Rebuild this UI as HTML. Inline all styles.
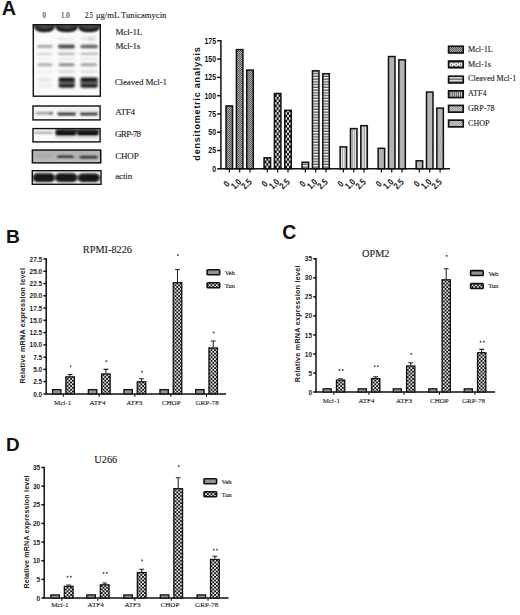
<!DOCTYPE html><html><head><meta charset="utf-8"><style>html,body{margin:0;padding:0;background:#fff;}svg{display:block;}</style></head><body>
<svg width="520" height="615" viewBox="0 0 520 615">
<defs>
<filter id="b1" x="-20%" y="-100%" width="140%" height="300%"><feGaussianBlur stdDeviation="0.9"/></filter>
<filter id="b2" x="-20%" y="-100%" width="140%" height="300%"><feGaussianBlur stdDeviation="1.3"/></filter>
<pattern id="pL" width="2" height="2" patternUnits="userSpaceOnUse"><rect width="2" height="2" fill="#acacac"/><rect width="1" height="1" fill="#5a5a5a"/><rect x="1" y="1" width="1" height="1" fill="#5a5a5a"/></pattern>
<pattern id="pS" width="3" height="3" patternUnits="userSpaceOnUse"><rect width="3" height="3" fill="#111"/><circle cx="1.5" cy="1.5" r="1" fill="#fff"/></pattern>
<pattern id="pC" width="2.75" height="2.75" patternUnits="userSpaceOnUse"><rect width="2.75" height="2.75" fill="#f6f6f6"/><rect y="1.4" width="2.75" height="1.35" fill="#5a5a5a"/></pattern>
<pattern id="pA" width="2.4" height="2.4" patternUnits="userSpaceOnUse"><rect width="2.4" height="2.4" fill="#f2f2f2"/><rect x="1.2" width="1.2" height="2.4" fill="#9a9a9a"/></pattern><pattern id="pA2" width="1.95" height="2" patternUnits="userSpaceOnUse" x="449.5"><rect width="1.95" height="2" fill="#fff"/><rect x="1" width="0.95" height="2" fill="#222"/></pattern>
<pattern id="pG" width="1.8" height="1.8" patternUnits="userSpaceOnUse"><rect width="1.8" height="1.8" fill="#d8d8d8"/><rect width="0.9" height="0.9" fill="#8e8e8e"/><rect x="0.9" y="0.9" width="0.9" height="0.9" fill="#8e8e8e"/></pattern>
<pattern id="pH" width="1.8" height="1.8" patternUnits="userSpaceOnUse"><rect width="1.8" height="1.8" fill="#dadada"/><rect width="0.9" height="0.9" fill="#909090"/><rect x="0.9" y="0.9" width="0.9" height="0.9" fill="#909090"/></pattern>
<pattern id="pV" width="1.8" height="1.8" patternUnits="userSpaceOnUse"><rect width="1.8" height="1.8" fill="#b4b4b4"/><rect width="0.9" height="0.9" fill="#707070"/><rect x="0.9" y="0.9" width="0.9" height="0.9" fill="#707070"/></pattern>
<pattern id="pT" width="3.6" height="3.6" patternUnits="userSpaceOnUse"><rect width="3.6" height="3.6" fill="#111"/><rect x="0.05" y="0.05" width="1.7" height="1.7" fill="#fff"/><rect x="1.85" y="1.85" width="1.7" height="1.7" fill="#fff"/></pattern>
</defs>
<text x="1.8" y="14.8" font-family='"Liberation Sans", sans-serif' font-weight="bold" font-size="19.8" fill="#111">A</text>
<g font-family='"Liberation Serif", serif' font-size="7.6" fill="#222" stroke="#222" stroke-width="0.15" lengthAdjust="spacingAndGlyphs"><text x="42.6" y="18.0" textLength="3.3" lengthAdjust="spacingAndGlyphs">0</text><text x="61.1" y="18.0" textLength="8.4" lengthAdjust="spacingAndGlyphs">1.0</text><text x="85.0" y="18.0" textLength="8.1" lengthAdjust="spacingAndGlyphs">2.5</text></g>
<text x="95.9" y="17.6" font-family='"Liberation Serif", serif' font-size="8.6" fill="#222" stroke="#222" stroke-width="0.12" textLength="70.5">μg/mL Tunicamycin</text>
<g><rect x="32.6" y="24.0" width="68.4" height="72.9" fill="#fafafa"/><clipPath id="c24"><rect x="32.6" y="24.0" width="68.4" height="72.9"/></clipPath><g clip-path="url(#c24)"><rect x="32" y="23" width="70" height="4.5" fill="#6a6a6a" filter="url(#b1)"/><path d="M34.8,24 H54.2 C54.2,30.6 50.32,31.6 44.5,31.6 C38.68,31.6 34.8,30.6 34.8,24 Z" fill="#4a4a4a" filter="url(#b1)"/><path d="M35.599999999999994,26.6 C36.3,30.2 39.65,30.4 44.5,30.4 C49.35,30.4 52.7,30.2 53.400000000000006,26.6" fill="none" stroke="#151515" stroke-width="2.6" filter="url(#b1)"/><path d="M56.2,24 H77.2 C77.2,30.6 73.0,31.6 66.7,31.6 C60.400000000000006,31.6 56.2,30.6 56.2,24 Z" fill="#4a4a4a" filter="url(#b1)"/><path d="M57.0,26.6 C57.7,30.2 61.45,30.4 66.7,30.4 C71.95,30.4 75.7,30.2 76.4,26.6" fill="none" stroke="#151515" stroke-width="2.6" filter="url(#b1)"/><path d="M78.8,24 H99.4 C99.4,30.6 95.28,31.6 89.1,31.6 C82.92,31.6 78.8,30.6 78.8,24 Z" fill="#4a4a4a" filter="url(#b1)"/><path d="M79.6,26.6 C80.3,30.2 83.95,30.4 89.1,30.4 C94.25,30.4 97.9,30.2 98.60000000000001,26.6" fill="none" stroke="#151515" stroke-width="2.6" filter="url(#b1)"/><rect x="58" y="36.8" width="17" height="4" rx="2.0" fill="#ededed" filter="url(#b2)"/><rect x="81" y="36.5" width="16" height="4" rx="2.0" fill="#e8e8e8" filter="url(#b2)"/><rect x="88" y="36.75" width="6" height="3.5" rx="1.75" fill="#d4d4d4" filter="url(#b2)"/><rect x="37" y="45.0" width="15.600000000000001" height="3.0" rx="1.5" fill="#a8a8a8" filter="url(#b1)"/><rect x="58" y="44.6" width="17" height="3.8" rx="1.9" fill="#4e4e4e" filter="url(#b1)"/><rect x="80.3" y="44.7" width="17.700000000000003" height="3.6" rx="1.8" fill="#626262" filter="url(#b1)"/><rect x="37" y="52.8" width="15.600000000000001" height="2.2" rx="1.1" fill="#d2d2d2" filter="url(#b1)"/><rect x="58" y="52.8" width="17" height="2.2" rx="1.1" fill="#b0b0b0" filter="url(#b1)"/><rect x="80.3" y="52.8" width="17.700000000000003" height="2.2" rx="1.1" fill="#b4b4b4" filter="url(#b1)"/><rect x="37" y="58.0" width="15.600000000000001" height="2" rx="1.0" fill="#f2f2f2" filter="url(#b1)"/><rect x="58" y="58.0" width="17" height="2" rx="1.0" fill="#e4e4e4" filter="url(#b1)"/><rect x="80.3" y="58.0" width="17.700000000000003" height="2" rx="1.0" fill="#e8e8e8" filter="url(#b1)"/><rect x="37.5" y="63.3" width="15.0" height="3" rx="1.5" fill="#aeaeae" filter="url(#b1)"/><rect x="58.5" y="63.3" width="16.0" height="3" rx="1.5" fill="#888888" filter="url(#b1)"/><rect x="80.5" y="63.3" width="16.5" height="3" rx="1.5" fill="#a2a2a2" filter="url(#b1)"/><rect x="37" y="70.5" width="15.600000000000001" height="2.2" rx="1.1" fill="#eeeeee" filter="url(#b1)"/><rect x="58" y="70.5" width="17" height="2.2" rx="1.1" fill="#d2d2d2" filter="url(#b1)"/><rect x="80.3" y="70.5" width="17.700000000000003" height="2.2" rx="1.1" fill="#d6d6d6" filter="url(#b1)"/><rect x="58.5" y="81.4" width="16.5" height="2.6" rx="1.3" fill="#555" filter="url(#b1)"/><rect x="80.3" y="81.4" width="17.700000000000003" height="2.6" rx="1.3" fill="#555" filter="url(#b1)"/><rect x="38" y="77.6" width="14" height="4.4" rx="2.2" fill="#e8e8e8" filter="url(#b1)"/><rect x="58.5" y="77.6" width="16.5" height="4.4" rx="2.2" fill="#141414" filter="url(#b1)"/><rect x="80.3" y="77.6" width="17.700000000000003" height="4.4" rx="2.2" fill="#141414" filter="url(#b1)"/><rect x="38" y="83.5" width="14" height="4.2" rx="2.1" fill="#eeeeee" filter="url(#b1)"/><rect x="58.5" y="83.5" width="16.5" height="4.2" rx="2.1" fill="#202020" filter="url(#b1)"/><rect x="80.3" y="83.5" width="17.700000000000003" height="4.2" rx="2.1" fill="#202020" filter="url(#b1)"/></g><rect x="33.300000000000004" y="24.7" width="67.0" height="71.5" fill="none" stroke="#111" stroke-width="1.4"/></g>
<g><rect x="32.3" y="105.3" width="68.5" height="15.299999999999997" fill="#f6f6f6"/><clipPath id="c105"><rect x="32.3" y="105.3" width="68.5" height="15.299999999999997"/></clipPath><g clip-path="url(#c105)"><rect x="35.5" y="112.0" width="17.0" height="2.4" rx="1.2" fill="#999" filter="url(#b1)"/><rect x="49.5" y="112.30000000000001" width="3.5" height="2.2" rx="1.1" fill="#707070" filter="url(#b1)"/><rect x="57.5" y="111.7" width="18.5" height="3.2" rx="1.6" fill="#5a5a5a" filter="url(#b1)"/><rect x="80" y="111.7" width="18" height="3.2" rx="1.6" fill="#5e5e5e" filter="url(#b1)"/><rect x="58" y="113.60000000000001" width="17.5" height="1.6" rx="0.8" fill="#3c3c3c" filter="url(#b1)"/><rect x="80.5" y="113.60000000000001" width="17.0" height="1.6" rx="0.8" fill="#404040" filter="url(#b1)"/><rect x="57.5" y="109.25" width="40.5" height="2.5" rx="1.25" fill="#e6e6e6" filter="url(#b2)"/></g><rect x="33.0" y="106.0" width="67.1" height="13.899999999999997" fill="none" stroke="#111" stroke-width="1.4"/></g>
<g><rect x="32.3" y="127.9" width="68.5" height="14.699999999999989" fill="#fbfbfb"/><clipPath id="c127"><rect x="32.3" y="127.9" width="68.5" height="14.699999999999989"/></clipPath><g clip-path="url(#c127)"><rect x="34" y="131.75" width="19" height="1.9" rx="0.95" fill="#9c9c9c" filter="url(#b1)"/><rect x="55.5" y="129.9" width="21.0" height="6.2" rx="2.5" fill="#0e0e0e" filter="url(#b1)"/><rect x="77" y="129.9" width="21.799999999999997" height="6.2" rx="2.5" fill="#0e0e0e" filter="url(#b1)"/><rect x="56" y="129.5" width="42.8" height="3" rx="1" fill="#222" filter="url(#b1)"/><rect x="56" y="136.25" width="42.5" height="2.5" rx="1" fill="#d8d8d8" filter="url(#b2)"/></g><rect x="33.0" y="128.6" width="67.1" height="13.299999999999988" fill="none" stroke="#111" stroke-width="1.4"/></g>
<g><rect x="31.7" y="149.4" width="69.7" height="14.099999999999994" fill="#b3b3b3"/><clipPath id="c149"><rect x="31.7" y="149.4" width="69.7" height="14.099999999999994"/></clipPath><g clip-path="url(#c149)"><rect x="36" y="154.25" width="16" height="2.5" rx="1.25" fill="#a4a4a4" filter="url(#b2)"/><rect x="57.4" y="155.7" width="16.199999999999996" height="2.6" rx="1.3" fill="#1e1e1e" filter="url(#b1)"/><rect x="79.6" y="155.89999999999998" width="17.80000000000001" height="2.6" rx="1.3" fill="#222" filter="url(#b1)"/><rect x="33" y="160.25" width="67" height="2.5" rx="0" fill="#c2c2c2" filter="url(#b2)"/><rect x="58" y="158.75" width="15" height="1.5" rx="0.75" fill="#c8c8c8" filter="url(#b2)"/></g><rect x="32.4" y="150.1" width="68.3" height="12.699999999999994" fill="none" stroke="#111" stroke-width="1.4"/></g>
<g><rect x="31.6" y="170.0" width="70.1" height="15.0" fill="#f4f4f4"/><clipPath id="c170"><rect x="31.6" y="170.0" width="70.1" height="15.0"/></clipPath><g clip-path="url(#c170)"><rect x="32" y="175.3" width="69" height="5" rx="2" fill="#707070" filter="url(#b2)"/><rect x="33.4" y="173.29999999999998" width="20.800000000000004" height="8.8" rx="4" fill="#141414" filter="url(#b1)"/><rect x="55.8" y="173.29999999999998" width="20.799999999999997" height="8.8" rx="4" fill="#141414" filter="url(#b1)"/><rect x="78.6" y="173.39999999999998" width="20.400000000000006" height="8.6" rx="4" fill="#161616" filter="url(#b1)"/></g><rect x="32.300000000000004" y="170.7" width="68.69999999999999" height="13.6" fill="none" stroke="#111" stroke-width="1.4"/></g>
<g font-family='"Liberation Serif", serif' font-size="9" fill="#222" stroke="#222" stroke-width="0.12"><text x="115.5" y="34.7" textLength="26.8">Mcl-1L</text><text x="115.5" y="49.2" textLength="24.8">Mcl-1s</text><text x="114.7" y="85" textLength="52.3">Cleaved Mcl-1</text><text x="115.2" y="115.4" textLength="19.8">ATF4</text><text x="115.0" y="136.8" textLength="26.1">GRP-78</text><text x="115.2" y="159.2" textLength="23.5">CHOP</text><text x="115.2" y="179.2" textLength="17">actin</text></g>
<defs><pattern id="pS0" width="3.9" height="5.1" patternUnits="userSpaceOnUse" x="266.34" y="0"><rect width="3.9" height="5.1" fill="#111"/><rect x="2.02" y="0.15" width="1.8" height="2.3" fill="#fff"/><rect x="0.07" y="2.7" width="1.8" height="2.3" fill="#fff"/></pattern><pattern id="pS1" width="3.9" height="5.1" patternUnits="userSpaceOnUse" x="276.69" y="0"><rect width="3.9" height="5.1" fill="#111"/><rect x="2.02" y="0.15" width="1.8" height="2.3" fill="#fff"/><rect x="0.07" y="2.7" width="1.8" height="2.3" fill="#fff"/></pattern><pattern id="pS2" width="3.9" height="5.1" patternUnits="userSpaceOnUse" x="287.04" y="0"><rect width="3.9" height="5.1" fill="#111"/><rect x="2.02" y="0.15" width="1.8" height="2.3" fill="#fff"/><rect x="0.07" y="2.7" width="1.8" height="2.3" fill="#fff"/></pattern><pattern id="pSL" width="4.5" height="8" patternUnits="userSpaceOnUse" x="449.4" y="60.5"><rect width="4.5" height="8" fill="#111"/><circle cx="2.25" cy="4.0" r="1.55" fill="none" stroke="#fff" stroke-width="1.6"/></pattern></defs>
<g stroke="#111" stroke-width="1.5" fill="none"><path d="M220.9,40.05 V168.8 H450"/>
<path d="M217.2,168.80 H220.9"/>
<path d="M217.2,150.51 H220.9"/>
<path d="M217.2,132.23 H220.9"/>
<path d="M217.2,113.94 H220.9"/>
<path d="M217.2,95.66 H220.9"/>
<path d="M217.2,77.37 H220.9"/>
<path d="M217.2,59.09 H220.9"/>
<path d="M217.2,40.80 H220.9"/>
</g>
<g font-family='"Liberation Sans", sans-serif' font-weight="bold" font-size="9.5" fill="#111" text-anchor="end">
<text transform="translate(216.0,171.70) scale(0.73,1)">0</text>
<text transform="translate(216.0,153.41) scale(0.73,1)">25</text>
<text transform="translate(216.0,135.13) scale(0.73,1)">50</text>
<text transform="translate(216.0,116.84) scale(0.73,1)">75</text>
<text transform="translate(216.0,98.56) scale(0.73,1)">100</text>
<text transform="translate(216.0,80.27) scale(0.73,1)">125</text>
<text transform="translate(216.0,61.99) scale(0.73,1)">150</text>
<text transform="translate(216.0,43.70) scale(0.73,1)">175</text>
</g>
<text transform="translate(199.8,103.9) rotate(-90)" font-family='"Liberation Sans", sans-serif' font-weight="bold" font-size="9" fill="#111" text-anchor="middle" textLength="113.5" lengthAdjust="spacing">densitometric analysis</text>
<g stroke="#111" stroke-width="1.5">
<rect x="226.05" y="105.92" width="6.50" height="62.88" fill="url(#pL)"/>
<rect x="236.40" y="49.60" width="6.50" height="119.20" fill="url(#pL)"/>
<rect x="246.75" y="70.08" width="6.50" height="98.72" fill="url(#pL)"/>
<rect x="264.07" y="157.85" width="6.50" height="10.95" fill="url(#pS0)"/>
<rect x="274.42" y="93.48" width="6.50" height="75.32" fill="url(#pS1)"/>
<rect x="284.77" y="110.30" width="6.50" height="58.50" fill="url(#pS2)"/>
<rect x="302.09" y="162.24" width="6.50" height="6.56" fill="url(#pC)"/>
<rect x="312.44" y="70.81" width="6.50" height="97.99" fill="url(#pC)"/>
<rect x="322.79" y="73.73" width="6.50" height="95.07" fill="url(#pC)"/>
<rect x="340.11" y="146.88" width="6.50" height="21.92" fill="url(#pA)"/>
<rect x="350.46" y="128.59" width="6.50" height="40.21" fill="url(#pA)"/>
<rect x="360.81" y="125.66" width="6.50" height="43.14" fill="url(#pA)"/>
<rect x="378.13" y="148.34" width="6.50" height="20.46" fill="url(#pG)"/>
<rect x="388.48" y="56.54" width="6.50" height="112.26" fill="url(#pG)"/>
<rect x="398.83" y="59.84" width="6.50" height="108.96" fill="url(#pG)"/>
<rect x="416.15" y="160.77" width="6.50" height="8.03" fill="url(#pH)"/>
<rect x="426.50" y="92.02" width="6.50" height="76.78" fill="url(#pH)"/>
<rect x="436.85" y="108.11" width="6.50" height="60.69" fill="url(#pH)"/>
</g>
<g stroke="#111" stroke-width="1.2">
<path d="M229.30,168.8 V172.5"/>
<path d="M239.65,168.8 V172.5"/>
<path d="M250.00,168.8 V172.5"/>
<path d="M267.32,168.8 V172.5"/>
<path d="M277.67,168.8 V172.5"/>
<path d="M288.02,168.8 V172.5"/>
<path d="M305.34,168.8 V172.5"/>
<path d="M315.69,168.8 V172.5"/>
<path d="M326.04,168.8 V172.5"/>
<path d="M343.36,168.8 V172.5"/>
<path d="M353.71,168.8 V172.5"/>
<path d="M364.06,168.8 V172.5"/>
<path d="M381.38,168.8 V172.5"/>
<path d="M391.73,168.8 V172.5"/>
<path d="M402.08,168.8 V172.5"/>
<path d="M419.40,168.8 V172.5"/>
<path d="M429.75,168.8 V172.5"/>
<path d="M440.10,168.8 V172.5"/>
</g>
<g font-family='"Liberation Sans", sans-serif' font-weight="bold" font-size="9.2" fill="#111" text-anchor="end">
<text transform="translate(230.20,184.6) rotate(-45) scale(0.8,1)">0</text>
<text transform="translate(241.95,182.6) rotate(-45) scale(0.8,1)">1.0</text>
<text transform="translate(252.30,182.6) rotate(-45) scale(0.8,1)">2.5</text>
<text transform="translate(268.22,184.6) rotate(-45) scale(0.8,1)">0</text>
<text transform="translate(279.97,182.6) rotate(-45) scale(0.8,1)">1.0</text>
<text transform="translate(290.32,182.6) rotate(-45) scale(0.8,1)">2.5</text>
<text transform="translate(306.24,184.6) rotate(-45) scale(0.8,1)">0</text>
<text transform="translate(317.99,182.6) rotate(-45) scale(0.8,1)">1.0</text>
<text transform="translate(328.34,182.6) rotate(-45) scale(0.8,1)">2.5</text>
<text transform="translate(344.26,184.6) rotate(-45) scale(0.8,1)">0</text>
<text transform="translate(356.01,182.6) rotate(-45) scale(0.8,1)">1.0</text>
<text transform="translate(366.36,182.6) rotate(-45) scale(0.8,1)">2.5</text>
<text transform="translate(382.28,184.6) rotate(-45) scale(0.8,1)">0</text>
<text transform="translate(394.03,182.6) rotate(-45) scale(0.8,1)">1.0</text>
<text transform="translate(404.38,182.6) rotate(-45) scale(0.8,1)">2.5</text>
<text transform="translate(420.30,184.6) rotate(-45) scale(0.8,1)">0</text>
<text transform="translate(432.05,182.6) rotate(-45) scale(0.8,1)">1.0</text>
<text transform="translate(442.40,182.6) rotate(-45) scale(0.8,1)">2.5</text>
</g>
<rect x="448.6" y="46.25" width="14.6" height="6.7" fill="url(#pL)" stroke="#111" stroke-width="1.7"/>
<text x="468" y="52.0" font-family='"Liberation Serif", serif' font-size="8.1" fill="#222" stroke="#222" stroke-width="0.12">Mcl-1L</text>
<rect x="448.6" y="61.05" width="14.6" height="6.7" fill="url(#pSL)" stroke="#111" stroke-width="1.7"/>
<text x="468" y="67.4" font-family='"Liberation Serif", serif' font-size="8.1" fill="#222" stroke="#222" stroke-width="0.12">Mcl-1s</text>
<rect x="448.6" y="76.25" width="14.6" height="6.7" fill="url(#pC)" stroke="#111" stroke-width="1.7"/>
<text x="468" y="81.4" font-family='"Liberation Serif", serif' font-size="8.1" fill="#222" stroke="#222" stroke-width="0.12">Cleaved Mcl-1</text>
<rect x="448.6" y="90.85" width="14.6" height="6.7" fill="url(#pA2)" stroke="#111" stroke-width="1.7"/>
<text x="468" y="96.0" font-family='"Liberation Serif", serif' font-size="8.1" fill="#222" stroke="#222" stroke-width="0.12">ATF4</text>
<rect x="448.6" y="105.45" width="14.6" height="6.7" fill="url(#pG)" stroke="#111" stroke-width="1.7"/>
<text x="468" y="111.3" font-family='"Liberation Serif", serif' font-size="8.1" fill="#222" stroke="#222" stroke-width="0.12">GRP-78</text>
<rect x="448.6" y="120.15" width="14.6" height="6.7" fill="url(#pH)" stroke="#111" stroke-width="1.7"/>
<text x="468" y="125.8" font-family='"Liberation Serif", serif' font-size="8.1" fill="#222" stroke="#222" stroke-width="0.12">CHOP</text>
<text x="6.0" y="242.5" font-family='"Liberation Sans", sans-serif' font-weight="bold" font-size="19.2" fill="#111">B</text><text x="82.8" y="253" font-family='"Liberation Serif", serif' font-size="10.3" fill="#1a1a1a" stroke="#1a1a1a" stroke-width="0.12">RPMI-8226</text><g stroke="#111" stroke-width="1.5" fill="none"><path d="M46.2,258.3 V393.9 H226"/><path d="M43.400000000000006,393.90 H46.2"/><path d="M43.400000000000006,381.64 H46.2"/><path d="M43.400000000000006,369.37 H46.2"/><path d="M43.400000000000006,357.11 H46.2"/><path d="M43.400000000000006,344.85 H46.2"/><path d="M43.400000000000006,332.58 H46.2"/><path d="M43.400000000000006,320.32 H46.2"/><path d="M43.400000000000006,308.05 H46.2"/><path d="M43.400000000000006,295.79 H46.2"/><path d="M43.400000000000006,283.53 H46.2"/><path d="M43.400000000000006,271.26 H46.2"/><path d="M43.400000000000006,259.00 H46.2"/></g><g stroke="#111" stroke-width="1.1" fill="none"><path d="M63.40,393.9 V396.7"/><path d="M99.20,393.9 V396.7"/><path d="M134.80,393.9 V396.7"/><path d="M170.80,393.9 V396.7"/><path d="M206.50,393.9 V396.7"/></g><g font-family='"Liberation Sans", sans-serif' font-weight="bold" font-size="6.5" fill="#222" text-anchor="end"><text x="42.2" y="396.50">0.0</text><text x="42.2" y="384.24">2.5</text><text x="42.2" y="371.97">5.0</text><text x="42.2" y="359.71">7.5</text><text x="42.2" y="347.45">10.0</text><text x="42.2" y="335.18">12.5</text><text x="42.2" y="322.92">15.0</text><text x="42.2" y="310.65">17.5</text><text x="42.2" y="298.39">20.0</text><text x="42.2" y="286.13">22.5</text><text x="42.2" y="273.86">25.0</text><text x="42.2" y="261.60">27.5</text></g><text transform="translate(25.4,325.8) rotate(-90)" font-family='"Liberation Sans", sans-serif' font-weight="bold" font-size="7.3" fill="#222" text-anchor="middle" textLength="115.6" lengthAdjust="spacing">Relative mRNA expression level</text><g stroke="#111" stroke-width="1.3"><rect x="52.55" y="389.64" width="8.40" height="4.26" fill="url(#pV)"/><path d="M70.10,376.24 V374.52 M67.70,374.52 H72.50" fill="none" stroke-width="1.05" stroke="#222"/><rect x="65.85" y="376.89" width="8.50" height="17.01" fill="url(#pT)"/><rect x="88.35" y="389.64" width="8.40" height="4.26" fill="url(#pV)"/><path d="M105.90,373.30 V369.37 M103.50,369.37 H108.30" fill="none" stroke-width="1.05" stroke="#222"/><rect x="101.65" y="373.95" width="8.50" height="19.95" fill="url(#pT)"/><rect x="123.95" y="389.64" width="8.40" height="4.26" fill="url(#pV)"/><path d="M141.50,381.15 V378.69 M139.10,378.69 H143.90" fill="none" stroke-width="1.05" stroke="#222"/><rect x="137.25" y="381.80" width="8.50" height="12.10" fill="url(#pT)"/><rect x="159.95" y="389.64" width="8.40" height="4.26" fill="url(#pV)"/><path d="M177.50,282.06 V269.55 M175.10,269.55 H179.90" fill="none" stroke-width="1.05" stroke="#222"/><rect x="173.25" y="282.71" width="8.50" height="111.19" fill="url(#pT)"/><rect x="195.65" y="389.64" width="8.40" height="4.26" fill="url(#pV)"/><path d="M213.20,347.30 V340.92 M210.80,340.92 H215.60" fill="none" stroke-width="1.05" stroke="#222"/><rect x="208.95" y="347.95" width="8.50" height="45.95" fill="url(#pT)"/></g><g fill="#444"><rect x="69.80" y="365.55" width="1.6" height="1.7"/><rect x="105.60" y="360.35" width="1.6" height="1.7"/><rect x="141.20" y="370.85" width="1.6" height="1.7"/><rect x="177.20" y="254.15" width="1.6" height="1.7"/><rect x="212.90" y="331.65" width="1.6" height="1.7"/></g><rect x="207.10000000000002" y="269.80" width="12.6" height="4.9" rx="0.8" fill="url(#pV)" stroke="#111" stroke-width="1.6"/><rect x="207.10000000000002" y="282.80" width="12.6" height="4.9" rx="0.8" fill="url(#pT)" stroke="#111" stroke-width="1.6"/><text x="224.70000000000002" y="274.80" font-family='"Liberation Serif", serif' font-size="6.8" fill="#222" stroke="#222" stroke-width="0.12" textLength="10.1">Veh</text><text x="224.70000000000002" y="287.60" font-family='"Liberation Serif", serif' font-size="6.8" fill="#222" stroke="#222" stroke-width="0.12" textLength="10.1">Tun</text><g font-family='"Liberation Serif", serif' font-size="7.1" fill="#222" stroke="#222" stroke-width="0.12" text-anchor="middle"><text x="62.75" y="404.5">Mcl-1</text><text x="97.50" y="404.5">ATF4</text><text x="134.35" y="404.5">ATF3</text><text x="171.15" y="404.5">CHOP</text><text x="207.10" y="404.5">GRP-78</text></g>
<text x="282.3" y="239.3" font-family='"Liberation Sans", sans-serif' font-weight="bold" font-size="19.4" fill="#111">C</text><text x="362" y="256.5" font-family='"Liberation Serif", serif' font-size="10.3" fill="#1a1a1a" stroke="#1a1a1a" stroke-width="0.12">OPM2</text><g stroke="#111" stroke-width="1.5" fill="none"><path d="M316.0,258.1 V392 H495"/><path d="M313.2,392.00 H316.0"/><path d="M313.2,372.97 H316.0"/><path d="M313.2,353.94 H316.0"/><path d="M313.2,334.91 H316.0"/><path d="M313.2,315.89 H316.0"/><path d="M313.2,296.86 H316.0"/><path d="M313.2,277.83 H316.0"/><path d="M313.2,258.80 H316.0"/></g><g stroke="#111" stroke-width="1.1" fill="none"><path d="M333.85,392 V394.8"/><path d="M368.95,392 V394.8"/><path d="M403.95,392 V394.8"/><path d="M439.45,392 V394.8"/><path d="M474.95,392 V394.8"/></g><g font-family='"Liberation Sans", sans-serif' font-weight="bold" font-size="6.5" fill="#222" text-anchor="end"><text x="312.0" y="394.60">0</text><text x="312.0" y="375.57">5</text><text x="312.0" y="356.54">10</text><text x="312.0" y="337.51">15</text><text x="312.0" y="318.49">20</text><text x="312.0" y="299.46">25</text><text x="312.0" y="280.43">30</text><text x="312.0" y="261.40">35</text></g><text transform="translate(300.1,323.8) rotate(-90)" font-family='"Liberation Sans", sans-serif' font-weight="bold" font-size="7.1" fill="#222" text-anchor="middle" textLength="116.7" lengthAdjust="spacing">Relative mRNA expression level</text><g stroke="#111" stroke-width="1.3"><rect x="323.15" y="388.84" width="8.10" height="3.16" fill="url(#pV)"/><path d="M340.60,379.44 V378.68 M338.20,378.68 H343.00" fill="none" stroke-width="1.05" stroke="#222"/><rect x="336.45" y="380.09" width="8.30" height="11.91" fill="url(#pT)"/><rect x="358.25" y="388.84" width="8.10" height="3.16" fill="url(#pV)"/><path d="M375.70,377.92 V376.78 M373.30,376.78 H378.10" fill="none" stroke-width="1.05" stroke="#222"/><rect x="371.55" y="378.57" width="8.30" height="13.43" fill="url(#pT)"/><rect x="393.25" y="388.84" width="8.10" height="3.16" fill="url(#pV)"/><path d="M410.70,365.36 V362.70 M408.30,362.70 H413.10" fill="none" stroke-width="1.05" stroke="#222"/><rect x="406.55" y="366.01" width="8.30" height="25.99" fill="url(#pT)"/><rect x="428.75" y="388.84" width="8.10" height="3.16" fill="url(#pV)"/><path d="M446.20,279.16 V268.69 M443.80,268.69 H448.60" fill="none" stroke-width="1.05" stroke="#222"/><rect x="442.05" y="279.81" width="8.30" height="112.19" fill="url(#pT)"/><rect x="464.25" y="388.84" width="8.10" height="3.16" fill="url(#pV)"/><path d="M481.70,352.04 V349.38 M479.30,349.38 H484.10" fill="none" stroke-width="1.05" stroke="#222"/><rect x="477.55" y="352.69" width="8.30" height="39.31" fill="url(#pT)"/></g><g fill="#444"><rect x="338.70" y="369.15" width="1.6" height="1.7"/><rect x="341.90" y="369.15" width="1.6" height="1.7"/><rect x="373.80" y="365.45" width="1.6" height="1.7"/><rect x="377.00" y="365.45" width="1.6" height="1.7"/><rect x="410.40" y="353.15" width="1.6" height="1.7"/><rect x="445.90" y="254.95" width="1.6" height="1.7"/><rect x="479.80" y="340.85" width="1.6" height="1.7"/><rect x="483.00" y="340.85" width="1.6" height="1.7"/></g><rect x="470.6" y="270.60" width="12.6" height="4.9" rx="0.8" fill="url(#pV)" stroke="#111" stroke-width="1.6"/><rect x="470.6" y="283.60" width="12.6" height="4.9" rx="0.8" fill="url(#pT)" stroke="#111" stroke-width="1.6"/><text x="488.2" y="275.60" font-family='"Liberation Serif", serif' font-size="6.8" fill="#222" stroke="#222" stroke-width="0.12" textLength="10.1">Veh</text><text x="488.2" y="288.40" font-family='"Liberation Serif", serif' font-size="6.8" fill="#222" stroke="#222" stroke-width="0.12" textLength="10.1">Tun</text><g font-family='"Liberation Serif", serif' font-size="7.0" fill="#222" stroke="#222" stroke-width="0.12" text-anchor="middle"><text x="331.35" y="403.2">Mcl-1</text><text x="366.55" y="403.2">ATF4</text><text x="403.95" y="403.2">ATF3</text><text x="439.45" y="403.2">CHOP</text><text x="473.45" y="403.2">GRP-78</text></g>
<text x="6.0" y="450.8" font-family='"Liberation Sans", sans-serif' font-weight="bold" font-size="18.9" fill="#111">D</text><text x="94.3" y="463.0" font-family='"Liberation Serif", serif' font-size="10.3" fill="#1a1a1a" stroke="#1a1a1a" stroke-width="0.12">U266</text><g stroke="#111" stroke-width="1.5" fill="none"><path d="M44.2,466.8 V598.0 H228.5"/><path d="M41.400000000000006,598.00 H44.2"/><path d="M41.400000000000006,579.36 H44.2"/><path d="M41.400000000000006,560.71 H44.2"/><path d="M41.400000000000006,542.07 H44.2"/><path d="M41.400000000000006,523.43 H44.2"/><path d="M41.400000000000006,504.79 H44.2"/><path d="M41.400000000000006,486.14 H44.2"/><path d="M41.400000000000006,467.50 H44.2"/></g><g stroke="#111" stroke-width="1.1" fill="none"><path d="M61.85,598.0 V600.8"/><path d="M97.85,598.0 V600.8"/><path d="M134.85,598.0 V600.8"/><path d="M171.35,598.0 V600.8"/><path d="M208.05,598.0 V600.8"/></g><g font-family='"Liberation Sans", sans-serif' font-weight="bold" font-size="6.5" fill="#222" text-anchor="end"><text x="40.2" y="600.60">0</text><text x="40.2" y="581.96">5</text><text x="40.2" y="563.31">10</text><text x="40.2" y="544.67">15</text><text x="40.2" y="526.03">20</text><text x="40.2" y="507.39">25</text><text x="40.2" y="488.74">30</text><text x="40.2" y="470.10">35</text></g><text transform="translate(28.5,532.0) rotate(-90)" font-family='"Liberation Sans", sans-serif' font-weight="bold" font-size="7.0" fill="#222" text-anchor="middle" textLength="113" lengthAdjust="spacing">Relative mRNA expression level</text><g stroke="#111" stroke-width="1.3"><rect x="50.85" y="594.92" width="8.50" height="3.08" fill="url(#pV)"/><path d="M68.70,585.70 V584.95 M66.30,584.95 H71.10" fill="none" stroke-width="1.05" stroke="#222"/><rect x="64.35" y="586.35" width="8.70" height="11.65" fill="url(#pT)"/><rect x="86.85" y="594.92" width="8.50" height="3.08" fill="url(#pV)"/><path d="M104.70,584.20 V583.09 M102.30,583.09 H107.10" fill="none" stroke-width="1.05" stroke="#222"/><rect x="100.35" y="584.85" width="8.70" height="13.15" fill="url(#pT)"/><rect x="123.85" y="594.92" width="8.50" height="3.08" fill="url(#pV)"/><path d="M141.70,571.90 V569.29 M139.30,569.29 H144.10" fill="none" stroke-width="1.05" stroke="#222"/><rect x="137.35" y="572.55" width="8.70" height="25.45" fill="url(#pT)"/><rect x="160.35" y="594.92" width="8.50" height="3.08" fill="url(#pV)"/><path d="M178.20,488.01 V477.75 M175.80,477.75 H180.60" fill="none" stroke-width="1.05" stroke="#222"/><rect x="173.85" y="488.66" width="8.70" height="109.34" fill="url(#pT)"/><rect x="197.05" y="594.92" width="8.50" height="3.08" fill="url(#pV)"/><path d="M214.90,558.85 V556.24 M212.50,556.24 H217.30" fill="none" stroke-width="1.05" stroke="#222"/><rect x="210.55" y="559.50" width="8.70" height="38.50" fill="url(#pT)"/></g><g fill="#444"><rect x="66.80" y="575.85" width="1.6" height="1.7"/><rect x="70.00" y="575.85" width="1.6" height="1.7"/><rect x="102.80" y="572.15" width="1.6" height="1.7"/><rect x="106.00" y="572.15" width="1.6" height="1.7"/><rect x="141.40" y="559.55" width="1.6" height="1.7"/><rect x="177.90" y="465.25" width="1.6" height="1.7"/><rect x="213.00" y="548.85" width="1.6" height="1.7"/><rect x="216.20" y="548.85" width="1.6" height="1.7"/></g><rect x="204.0" y="478.80" width="12.6" height="4.9" rx="0.8" fill="url(#pV)" stroke="#111" stroke-width="1.6"/><rect x="204.0" y="491.80" width="12.6" height="4.9" rx="0.8" fill="url(#pT)" stroke="#111" stroke-width="1.6"/><text x="221.6" y="483.80" font-family='"Liberation Serif", serif' font-size="6.8" fill="#222" stroke="#222" stroke-width="0.12" textLength="10.1">Veh</text><text x="221.6" y="496.60" font-family='"Liberation Serif", serif' font-size="6.8" fill="#222" stroke="#222" stroke-width="0.12" textLength="10.1">Tun</text><g font-family='"Liberation Serif", serif' font-size="7.1" fill="#222" stroke="#222" stroke-width="0.12" text-anchor="middle"><text x="59.90" y="606.5">Mcl-1</text><text x="95.65" y="606.5">ATF4</text><text x="132.50" y="606.5">ATF3</text><text x="169.90" y="606.5">CHOP</text><text x="206.75" y="606.5">GRP-78</text></g>
</svg></body></html>
